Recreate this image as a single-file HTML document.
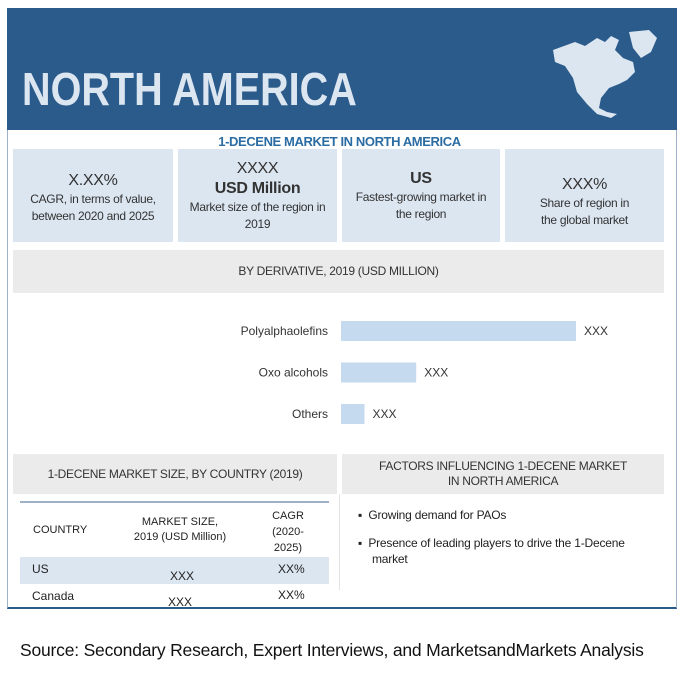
<!DOCTYPE html>
<html><head><meta charset="utf-8"><style>
body{margin:0;width:679px;height:673px;background:#fff;font-family:"Liberation Sans",sans-serif;position:relative;overflow:hidden;color:#222}
div{position:absolute;box-sizing:border-box}
.box{background:#dce6f1;text-align:center;font-size:12px;line-height:17px;color:#333;letter-spacing:-0.3px}
.big{font-size:16px;line-height:20px}
.gray{background:#ebebeb;text-align:center;font-size:12px;color:#333;letter-spacing:-0.3px}
</style></head><body>
<div style="left:7px;top:8px;width:670px;height:601px;border-left:1px solid #9fb1c6;border-right:1px solid #9fb1c6;border-bottom:2px solid #2b5b8b"></div>
<div style="left:7px;top:8px;width:670px;height:122px;background:#2b5b8b"></div>
<div style="left:22px;top:62px;font-size:46px;font-weight:bold;color:#dce6f1;transform:scaleX(0.86);transform-origin:left top">NORTH AMERICA</div>
<svg style="position:absolute;left:545px;top:28px" width="120" height="90" viewBox="0 0 120 90"><path d="M8 22 L30 14 L40 18 L52 10 L60 14 L66 8 L74 12 L70 22 L78 30 L88 34 L90 44 L82 52 L74 56 L64 60 L56 70 L54 80 L62 84 L72 86 L66 90 L52 86 L42 76 L32 64 L28 50 L20 38 L10 34 Z" fill="#dce6f1"/><path d="M84 4 L104 2 L112 10 L106 24 L96 30 L88 20 Z" fill="#dce6f1"/></svg>
<div style="left:0;width:679px;top:134px;text-align:center;font-size:13px;font-weight:bold;color:#2b6ca3;letter-spacing:-0.4px">1-DECENE MARKET IN NORTH AMERICA</div>
<div class="box" style="left:13px;top:149px;width:160px;height:93px;padding-top:22px"><span class="big">X.XX%</span><br>CAGR, in terms of value,<br>between 2020 and 2025</div>
<div class="box" style="left:178px;top:149px;width:159px;height:93px;padding-top:10px"><span class="big">XXXX</span><br><b class="big">USD Million</b><br>Market size of the region in<br>2019</div>
<div class="box" style="left:342px;top:149px;width:158px;height:93px;padding-top:20px"><b class="big">US</b><br>Fastest-growing market in<br>the region</div>
<div class="box" style="left:505px;top:149px;width:159px;height:93px;padding-top:26px"><span class="big">XXX%</span><br>Share of region in<br>the global market</div>
<div class="gray" style="left:13px;top:250px;width:651px;height:43px;line-height:43px">BY DERIVATIVE, 2019 (USD MILLION)</div>
<svg id="chart" style="position:absolute;left:0;top:300px" width="679" height="140"></svg>
<div class="gray" style="left:13px;top:454px;width:324px;height:40px;line-height:40px">1-DECENE MARKET SIZE, BY COUNTRY (2019)</div>
<div class="gray" style="left:342px;top:454px;width:322px;height:40px;padding-top:5px;line-height:15px">FACTORS INFLUENCING 1-DECENE MARKET<br>IN NORTH AMERICA</div>
<div style="left:20px;top:501px;width:309px;height:2px;background:#9fb1c6"></div>
<div style="left:33px;top:522px;font-size:11px;line-height:16px">COUNTRY</div>
<div style="left:110px;top:515px;width:140px;text-align:center;font-size:11px;line-height:15px">MARKET SIZE,<br>2019 (USD Million)</div>
<div style="left:268px;top:508px;width:40px;text-align:center;font-size:11px;line-height:16px">CAGR<br>(2020-<br>2025)</div>
<div style="left:20px;top:557px;width:309px;height:27px;background:#dce6f1;font-size:12px"><span style="position:absolute;left:12px;top:5px">US</span><span style="position:absolute;left:150px;top:12px">XXX</span><span style="position:absolute;left:258px;top:5px">XX%</span></div>
<div style="left:20px;top:584px;width:309px;height:22px;font-size:12px"><span style="position:absolute;left:12px;top:5px">Canada</span><span style="position:absolute;left:148px;top:11px">XXX</span><span style="position:absolute;left:258px;top:4px">XX%</span></div>
<div style="left:339px;top:494px;width:1px;height:96px;background:#e4e4e4"></div>
<div style="left:358px;top:507px;font-size:12px;line-height:16px;width:300px;letter-spacing:-0.2px"><div style="position:static">▪&nbsp; Growing demand for PAOs</div><div style="position:static;margin-top:12px;padding-left:14px;text-indent:-14px">▪&nbsp; Presence of leading players to drive the 1-Decene market</div></div>
<div style="left:20px;top:640px;font-family:'Liberation Sans',sans-serif;font-size:17.5px;color:#111;white-space:nowrap;letter-spacing:-0.2px">Source: Secondary Research, Expert Interviews, and MarketsandMarkets Analysis</div>
<script>
const categories=["Polyalphaolefins","Oxo alcohols","Others"];
const values=[100,32,10];
const valueLabels=["XXX","XXX","XXX"];
const svg=document.getElementById('chart');
const ns="http://www.w3.org/2000/svg";
const x0=341,xScale=v=>v*2.35;
const yPos=i=>21+i*41.5;
categories.forEach((c,i)=>{
 const r=document.createElementNS(ns,'rect');
 r.setAttribute('x',x0);r.setAttribute('y',yPos(i));r.setAttribute('width',xScale(values[i]));r.setAttribute('height',20);r.setAttribute('fill','#c5d9ef');
 
 
 svg.appendChild(r);
 const t=document.createElementNS(ns,'text');
 t.setAttribute('x',x0-13);t.setAttribute('y',yPos(i)+14);t.setAttribute('text-anchor','end');t.setAttribute('font-size','12');t.setAttribute('fill','#333');t.setAttribute('font-family','Liberation Sans, sans-serif');
 t.textContent=c;
 
 
 svg.appendChild(t);
 const v=document.createElementNS(ns,'text');
 v.setAttribute('x',x0+xScale(values[i])+8);v.setAttribute('y',yPos(i)+14);v.setAttribute('font-size','12');v.setAttribute('fill','#333');v.setAttribute('font-family','Liberation Sans, sans-serif');
 v.textContent=valueLabels[i];
 
 
 svg.appendChild(v);
});
</script>
</body></html>
